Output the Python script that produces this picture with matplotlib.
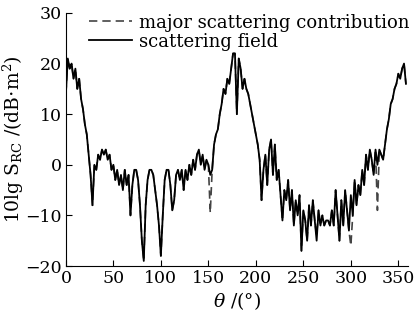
import numpy as np
import matplotlib
matplotlib.use("Agg")
import matplotlib.pyplot as plt

plt.rcParams['font.family'] = ['DejaVu Serif']
plt.rcParams['mathtext.fontset'] = 'dejavuserif'

theta = list(range(0, 360, 2))
field = [14, 21, 19, 20, 17, 19, 15, 17, 13, 11,
         8, 6, 2, -2, -8, 0, -1, 2, 1, 3,
         2, 3, 1, 2, -1, 0, -3, -1, -4, -2,
         -5, -1, -4, -2, -10, -4, -1, -1, -3, -8,
         -15, -19, -8, -3, -1, -1, -2, -5, -8, -12,
         -18, -10, -3, -1, -1, -4, -9, -7, -2, -1,
         -3, -1, -5, -1, -3, 0, -2, 1, -1, 2,
         3, 0, 2, -1, 1, 0, -2, -1, 4, 6,
         7, 10, 12, 15, 14, 17, 16, 19, 22, 22,
         10, 21, 19, 15, 17, 15, 14, 12, 10, 8,
         6, 4, 1, -7, -1, 2, -4, 3, 5, -2,
         4, -3, -1, -6, -11, -5, -7, -3, -9, -5,
         -12, -7, -10, -6, -17, -9, -11, -15, -8, -12,
         -7, -11, -15, -9, -12, -10, -12, -11, -11, -12,
         -9, -12, -5, -10, -15, -7, -12, -5, -9, -13,
         -6, -10, -3, -8, -4, -6, -1, -4, 2, -1,
         3, 1, -2, 3, 0, 3, 2, 1, 4, 7,
         9, 12, 13, 15, 16, 18, 17, 19, 20, 16]
major_override = {152: -9.5, 264: -14, 300: -16, 328: -9}
major = [major_override.get(a, v) for a, v in zip(theta, field)]

fig = plt.figure(figsize=(4.17, 3.24), dpi=100)
ax = fig.add_axes([0.158, 0.179, 0.82, 0.781])

ax.plot(theta, major, color='#444444', lw=1.2, ls=(0, (5, 3)),
        label='major scattering contribution')
ax.plot(theta, field, color='black', lw=1.3, label='scattering field')

ax.set_xlim(0, 360)
ax.set_ylim(-20, 30)
ax.set_xticks(range(0, 351, 50))
ax.set_yticks(range(-20, 31, 10))
ax.tick_params(direction='in', length=4, width=0.8, labelsize=12.5, pad=3)
for s in ['top', 'right']:
    ax.spines[s].set_visible(False)
ax.set_xlabel(r'$\theta$ /(°)', fontsize=13.5, labelpad=2)
ax.set_ylabel(r'10lg S$_{\mathrm{RC}}$ /(dB$\cdot$m$^{2}$)', fontsize=13.5)
ax.yaxis.set_label_coords(-0.118, 0.5)

ax.legend(loc='upper left', bbox_to_anchor=(0.035, 1.04), frameon=False,
          fontsize=13, handlelength=2.4, handletextpad=0.4,
          labelspacing=0.05, borderpad=0.1)

fig.savefig('out.png', dpi=100)
